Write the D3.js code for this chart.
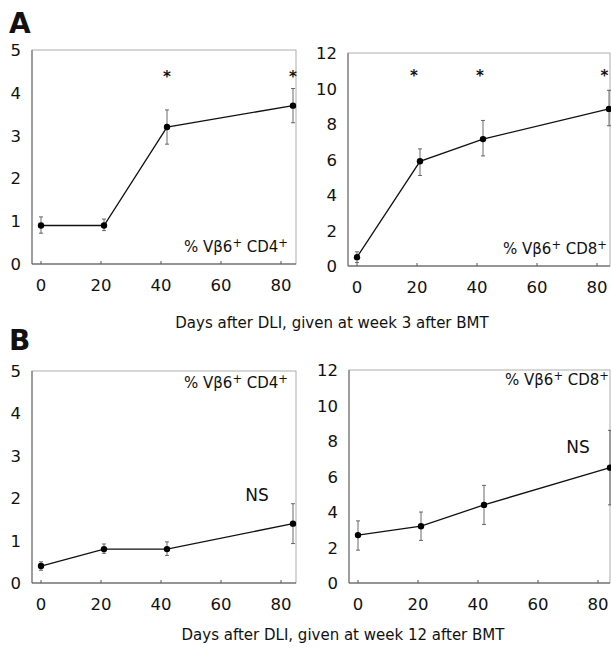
<!DOCTYPE html>
<html>
<head>
<meta charset="utf-8">
<script src="https://cdn.jsdelivr.net/npm/d3@7"></script>
<style>
  body { margin: 0; background: #fff; }
  text { font-family: "DejaVu Sans", sans-serif; fill: #111; }
</style>
</head>
<body>
<svg id="fig" width="611" height="649"></svg>
<script>
// days after DLI
const days = [0, 21, 42, 84];

// panel A (DLI at week 3)
const aCD4 = [0.9, 0.9, 3.2, 3.7];
const aCD4Lo = [0.72, 0.78, 2.8, 3.3];
const aCD4Hi = [1.1, 1.05, 3.6, 4.1];
const aCD8 = [0.5, 5.9, 7.15, 8.85];
const aCD8Lo = [0.2, 5.1, 6.2, 7.9];
const aCD8Hi = [0.8, 6.6, 8.2, 9.9];

// panel B (DLI at week 12)
const bCD4 = [0.4, 0.8, 0.8, 1.4];
const bCD4Lo = [0.3, 0.7, 0.65, 0.93];
const bCD4Hi = [0.5, 0.92, 0.97, 1.87];
const bCD8 = [2.7, 3.2, 4.4, 6.5];
const bCD8Lo = [1.85, 2.4, 3.3, 4.4];
const bCD8Hi = [3.5, 4.0, 5.5, 8.6];

// significance marks
const aCD4Stars = [42, 84];
const aCD8Stars = [19, 41, 82.5];

const xTicks = [0, 20, 40, 60, 80];
const cd4Ticks = [0, 1, 2, 3, 4, 5];
const cd8Ticks = [0, 2, 4, 6, 8, 10, 12];

const panels = [
  { y: aCD4, lo: aCD4Lo, hi: aCD4Hi, ymax: 5, ticks: cd4Ticks, stars: aCD4Stars, starAt: 4.45,
    label: 'CD4', lx: 288, ly: 252, ns: null,
    box: { l: 32, r: 296, t: 50, b: 264 } },
  { y: aCD8, lo: aCD8Lo, hi: aCD8Hi, ymax: 12, ticks: cd8Ticks, stars: aCD8Stars, starAt: 10.85,
    label: 'CD8', lx: 607, ly: 254, ns: null,
    box: { l: 348, r: 610, t: 53, b: 266 } },
  { y: bCD4, lo: bCD4Lo, hi: bCD4Hi, ymax: 5, ticks: cd4Ticks, stars: [], starAt: 0,
    label: 'CD4', lx: 288, ly: 388, ns: [257, 501],
    box: { l: 32, r: 296, t: 371, b: 583 } },
  { y: bCD8, lo: bCD8Lo, hi: bCD8Hi, ymax: 12, ticks: cd8Ticks, stars: [], starAt: 0,
    label: 'CD8', lx: 609, ly: 385, ns: [578, 453],
    box: { l: 349, r: 610, t: 370, b: 583 } }
];

const $svg = d3.select('#fig');

panels.forEach((p) => {
  const bx = p.box,
    xScale = d3.scaleLinear().domain([-3, -3 + (bx.r - bx.l) / 3]).range([bx.l, bx.r]),
    yScale = d3.scaleLinear().domain([0, p.ymax]).range([bx.b, bx.t]),
    $g = $svg.append('g');

  // frame
  $g.append('rect')
    .attr('x', bx.l).attr('y', bx.t)
    .attr('width', bx.r - bx.l).attr('height', bx.b - bx.t)
    .attr('fill', 'none').attr('stroke', '#999').attr('stroke-width', 0.8);
  $g.append('line')
    .attr('x1', bx.l).attr('x2', bx.l).attr('y1', bx.t).attr('y2', bx.b)
    .attr('stroke', '#666').attr('stroke-width', 1);
  $g.append('line')
    .attr('x1', bx.l).attr('x2', bx.r).attr('y1', bx.b).attr('y2', bx.b)
    .attr('stroke', '#555').attr('stroke-width', 1);

  // x ticks
  $g.selectAll('.xt').data(xTicks).enter().append('line')
    .attr('x1', (d) => xScale(d)).attr('x2', (d) => xScale(d))
    .attr('y1', bx.b).attr('y2', bx.b - 3)
    .attr('stroke', '#555');
  $g.selectAll('.xl').data(xTicks).enter().append('text')
    .attr('x', xScale).attr('y', bx.b + 27)
    .attr('text-anchor', 'middle').attr('font-size', 16.5)
    .text((d) => d);
  $g.selectAll('.yl').data(p.ticks).enter().append('text')
    .attr('x', bx.l - 11).attr('y', (d) => yScale(d) + 6)
    .attr('text-anchor', 'end').attr('font-size', 16.5)
    .text((d) => d);

  // error bars
  const ebar = $g.selectAll('.eb').data(days).enter().append('g');
  ebar.append('line')
    .attr('x1', xScale).attr('x2', xScale)
    .attr('y1', (d, i) => yScale(p.lo[i])).attr('y2', (d, i) => yScale(p.hi[i]))
    .attr('stroke', '#444').attr('stroke-width', 0.8);
  [p.lo, p.hi].forEach((arr) => {
    ebar.append('line')
      .attr('x1', (d) => xScale(d) - 2).attr('x2', (d) => xScale(d) + 2)
      .attr('y1', (d, i) => yScale(arr[i])).attr('y2', (d, i) => yScale(arr[i]))
      .attr('stroke', '#444').attr('stroke-width', 0.8);
  });

  // mean line and points
  $g.append('path')
    .datum(days)
    .attr('d', d3.line().x((d) => xScale(d)).y((d, i) => yScale(p.y[i])))
    .attr('fill', 'none').attr('stroke', '#111').attr('stroke-width', 1.3);
  $g.selectAll('.pt').data(days).enter().append('circle')
    .attr('cx', xScale).attr('cy', (d, i) => yScale(p.y[i]))
    .attr('r', 3.2).attr('fill', '#000');

  // stars
  $g.selectAll('.st').data(p.stars).enter().append('text')
    .attr('x', xScale).attr('y', yScale(p.starAt) + 8)
    .attr('text-anchor', 'middle').attr('font-size', 15).attr('font-weight', 'bold')
    .text('*');

  // series label
  const $lab = $g.append('text')
    .attr('x', p.lx).attr('y', p.ly)
    .attr('text-anchor', 'end').attr('font-size', 15);
  $lab.append('tspan').text('% V\u03B26');
  $lab.append('tspan').attr('dy', -5).attr('font-size', 11.5).text('+');
  $lab.append('tspan').attr('dy', 5).text(' ' + p.label);
  $lab.append('tspan').attr('dy', -5).attr('font-size', 11.5).text('+');

  if (p.ns) {
    $g.append('text')
      .attr('x', p.ns[0]).attr('y', p.ns[1])
      .attr('text-anchor', 'middle').attr('font-size', 17)
      .text('NS');
  }
});

// panel letters and captions
$svg.append('text').attr('x', 9).attr('y', 33)
  .attr('font-size', 28).attr('font-weight', 'bold').text('A');
$svg.append('text').attr('x', 9).attr('y', 350)
  .attr('font-size', 28).attr('font-weight', 'bold').text('B');
$svg.append('text').attr('x', 332).attr('y', 328)
  .attr('text-anchor', 'middle').attr('font-size', 15)
  .text('Days after DLI, given at week 3 after BMT');
$svg.append('text').attr('x', 343).attr('y', 640)
  .attr('text-anchor', 'middle').attr('font-size', 15)
  .text('Days after DLI, given at week 12 after BMT');
</script>
</body>
</html>
